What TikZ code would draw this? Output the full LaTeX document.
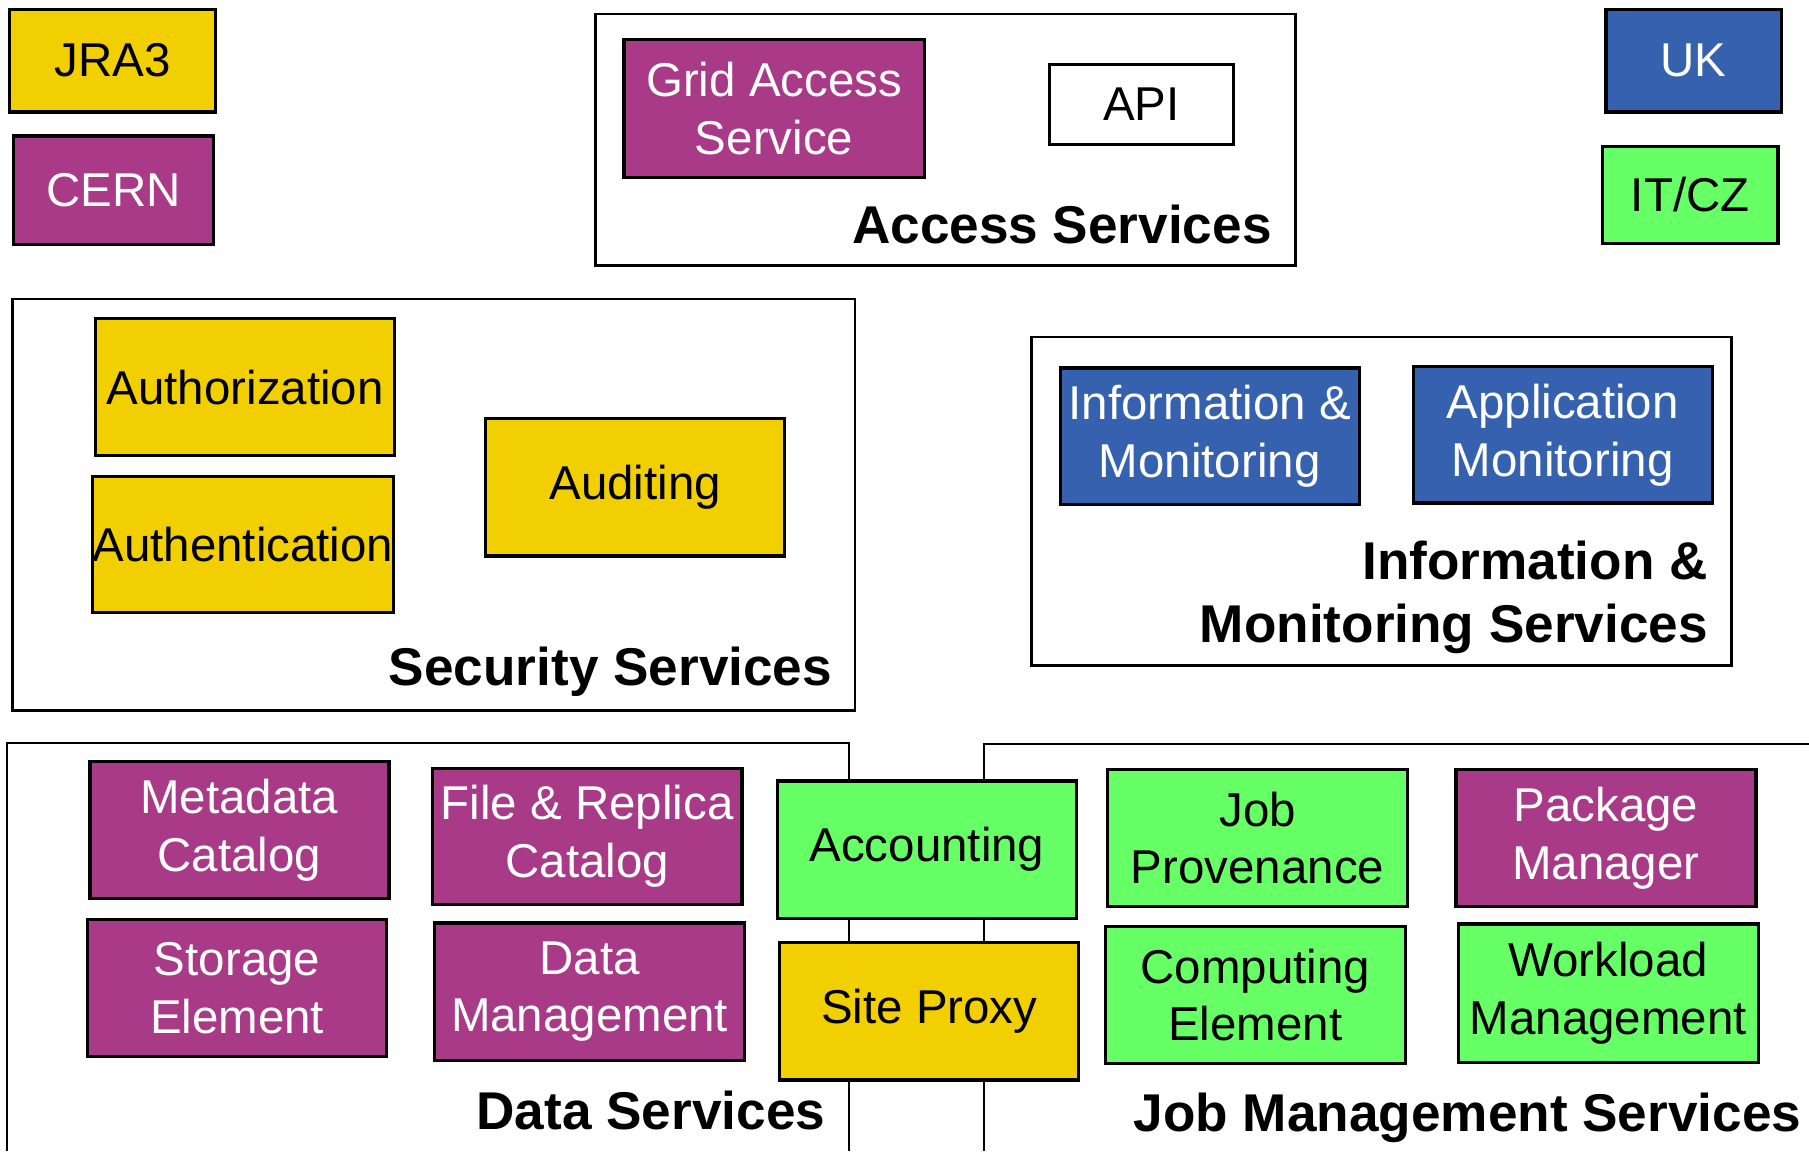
\documentclass[tikz,border=0pt]{standalone}
\usepackage{fontspec}
\setmainfont{Liberation Sans}
\usepackage{xcolor}
\definecolor{jraYellow}{HTML}{F2CF00}
\definecolor{cernPurple}{HTML}{A93A87}
\definecolor{ukBlue}{HTML}{3561AE}
\definecolor{itGreen}{HTML}{66FF66}

\begin{document}
\begin{tikzpicture}[
  x=0.01cm,
  y=-0.01cm,
  comp/.style={
    draw=black,
    line width=0.8pt,
    align=center,
    inner sep=0pt,
    minimum width=2.59cm,
    minimum height=1.19cm,
    font=\fontsize{11.7}{14.2}\selectfont
  },
  jra/.style={comp,fill=jraYellow,text=black},
  cern/.style={comp,fill=cernPurple,text=white},
  uk/.style={comp,fill=ukBlue,text=white},
  itcz/.style={comp,fill=itGreen,text=black},
  group/.style={draw=black,line width=0.6pt},
  grouptitle/.style={
    anchor=base east,
    align=right,
    inner sep=0pt,
    font=\fontsize{13.1}{15.6}\selectfont\bfseries
  }
]
  \useasboundingbox (0,0) rectangle (1568,998);

  % legend
  \node[jra,minimum width=1.79cm,minimum height=0.89cm] (legJRA) at (97.5,52.5) {JRA3};
  \node[cern,minimum width=1.73cm,minimum height=0.94cm] (legCERN) at (98.5,165) {CERN};
  \node[uk,minimum width=1.52cm,minimum height=0.89cm] (legUK) at (1468,52.5) {UK};
  \node[itcz,minimum width=1.52cm,minimum height=0.84cm] (legIT) at (1465,169) {IT/CZ};

  % access services
  \draw[group] (516,12) rectangle (1123,230);
  \node[cern,minimum width=2.60cm,minimum height=1.20cm] (gas) at (671,94) {Grid Access\\Service};
  \node[comp,fill=white,minimum width=1.59cm,minimum height=0.69cm] (api) at (989.5,90.5) {API};
  \node[grouptitle] (accessT) at (1103,211) {Access Services};

  % security services
  \draw[group] (11,259) rectangle (741,616);
  \node[jra] (authz) at (212.5,335.5) {Authorization};
  \node[jra,minimum height=1.18cm] (authn) at (210.5,472) {Authentication};
  \node[jra] (audit) at (550.5,422.5) {Auditing};
  \node[grouptitle] (securityT) at (722,594) {Security Services};

  % information & monitoring services
  \draw[group] (894,292) rectangle (1501,577);
  \node[uk,minimum height=1.18cm] (infomon) at (1048.5,378) {Information \&\\Monitoring};
  \node[uk,minimum height=1.18cm] (appmon) at (1354.5,377) {Application\\Monitoring};
  \node[grouptitle] (infoT) at (1481,557) {Information \&\\Monitoring Services};

  % data services
  \draw[group] (6,998) -- (6,644) -- (736,644) -- (736,998);
  \node[cern] (metacat) at (207.5,719.5) {Metadata\\Catalog};
  \node[cern,minimum width=2.68cm,minimum height=1.18cm] (filecat) at (509,725) {File \& Replica\\Catalog};
  \node[cern] (storage) at (205.5,856.5) {Storage\\Element};
  \node[cern,minimum width=2.68cm] (datamgmt) at (511,859.5) {Data\\Management};
  \node[grouptitle] (dataT) at (716,979) {Data Services};

  % job management services
  \draw[group] (853,998) -- (853,645) -- (1568,645);
  \node[itcz,minimum width=2.60cm] (jobprov) at (1090,726.5) {Job\\Provenance};
  \node[cern,minimum width=2.60cm] (pkgmgr) at (1392,726.5) {Package\\Manager};
  \node[itcz,minimum width=2.60cm] (compel) at (1088,862.5) {Computing\\Element};
  \node[itcz,minimum width=2.60cm,minimum height=1.20cm] (wms) at (1394,861) {Workload\\Management};
  \node[grouptitle] (jobT) at (1562,981) {Job Management Services};

  % shared by both
  \node[itcz] (acct) at (803.5,736.5) {Accounting};
  \node[jra] (siteproxy) at (805.5,876.5) {Site Proxy};
\end{tikzpicture}
\end{document}
